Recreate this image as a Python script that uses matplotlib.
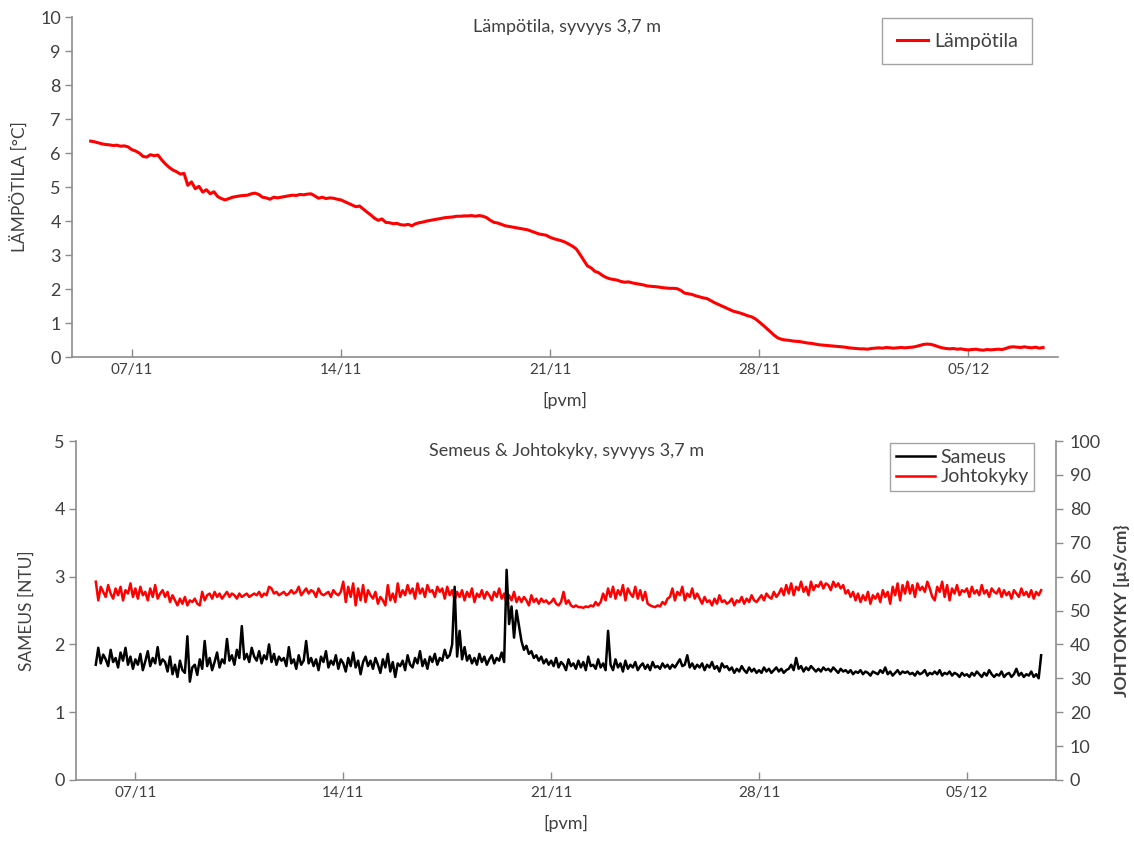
import matplotlib
matplotlib.use("Agg")
import matplotlib.pyplot as plt
import matplotlib.dates as mdates
import pandas as pd

plt.rcParams['font.family'] = ['Lato', 'DejaVu Sans']

# ---------------- data ----------------
title_top = "Lämpötila, syvyys 3,7 m"
title_bottom = "Semeus & Johtokyky, syvyys 3,7 m"
xlabel = "[pvm]"
ylabel_top = "LÄMPÖTILA [°C]"
ylabel_left = "SAMEUS [NTU]"
ylabel_right = "JOHTOKYKY [µS/cm}"
tick_dates = ["2013-11-07", "2013-11-14", "2013-11-21", "2013-11-28", "2013-12-05"]
x_range = ["2013-11-05", "2013-12-08"]

# temperature, every 3 h from 05/11 15:00
temp_start = "2013-11-05 15:00"
temperature = [
    6.35, 6.33, 6.30,
    6.27, 6.25, 6.24, 6.22, 6.23, 6.20, 6.21, 6.18,
    6.10, 6.06, 6.00, 5.90, 5.88, 5.95, 5.92, 5.94,
    5.80, 5.68, 5.58, 5.50, 5.45, 5.38, 5.40, 5.05,
    5.15, 4.95, 5.02, 4.85, 4.92, 4.80, 4.86, 4.72,
    4.66, 4.62, 4.66, 4.70, 4.72, 4.74, 4.75, 4.76,
    4.80, 4.82, 4.78, 4.70, 4.68, 4.64, 4.70, 4.68,
    4.70, 4.72, 4.74, 4.76, 4.75, 4.78, 4.77, 4.79,
    4.80, 4.74, 4.67, 4.70, 4.66, 4.68, 4.67, 4.64,
    4.62, 4.57, 4.52, 4.47, 4.42, 4.44, 4.35, 4.26,
    4.18, 4.08, 4.02, 4.06, 3.96, 3.95, 3.92, 3.93,
    3.89, 3.88, 3.90, 3.86, 3.92, 3.95, 3.97, 4.00,
    4.02, 4.04, 4.06, 4.08, 4.10, 4.11, 4.12, 4.14,
    4.14, 4.15, 4.15, 4.16, 4.14, 4.16, 4.14, 4.10,
    4.02, 3.96, 3.94, 3.90, 3.86, 3.84, 3.82, 3.80,
    3.78, 3.76, 3.74, 3.70, 3.66, 3.62, 3.60, 3.58,
    3.52, 3.48, 3.45, 3.42, 3.38, 3.32, 3.26, 3.18,
    3.02, 2.85, 2.68, 2.62, 2.52, 2.48, 2.40, 2.34,
    2.30, 2.28, 2.26, 2.22, 2.20, 2.21, 2.18, 2.16,
    2.14, 2.12, 2.09, 2.08, 2.07, 2.06, 2.04, 2.03,
    2.02, 2.02, 2.01, 1.96, 1.88, 1.86, 1.84, 1.80,
    1.77, 1.74, 1.72, 1.66, 1.60, 1.55, 1.50, 1.45,
    1.40, 1.35, 1.32, 1.29, 1.25, 1.21, 1.18, 1.12,
    1.03, 0.94, 0.84, 0.74, 0.64, 0.56, 0.52, 0.50,
    0.49, 0.47, 0.46, 0.45, 0.43, 0.41, 0.40, 0.38,
    0.36, 0.35, 0.34, 0.33, 0.32, 0.31, 0.30, 0.29,
    0.27, 0.26, 0.25, 0.24, 0.24, 0.23, 0.25, 0.26,
    0.27, 0.26, 0.28, 0.27, 0.26, 0.27, 0.28, 0.27,
    0.28, 0.29, 0.31, 0.34, 0.37, 0.38, 0.37, 0.34,
    0.30, 0.27, 0.25, 0.24, 0.25, 0.23, 0.24, 0.22,
    0.21, 0.22, 0.23, 0.21, 0.20, 0.22, 0.21, 0.22,
    0.23, 0.22, 0.25, 0.29, 0.30, 0.29, 0.28, 0.30,
    0.28, 0.27, 0.29, 0.26, 0.28,
]

# turbidity (NTU) and conductivity (uS/cm), every 2 h from 05/11 16:00
wq_start = "2013-11-05 16:00"
turbidity = [
    1.70, 1.95, 1.72, 1.85,
    1.78, 1.68, 1.92, 1.74, 1.80, 1.66, 1.88, 1.76, 1.95, 1.70, 1.82, 1.64,
    1.78, 1.70, 1.86, 1.62, 1.75, 1.90, 1.68, 1.80, 1.72, 1.96, 1.70, 1.78,
    1.74, 1.60, 1.82, 1.56, 1.70, 1.52, 1.76, 1.62, 1.58, 2.12, 1.45, 1.66,
    1.70, 1.55, 1.78, 1.64, 2.05, 1.68, 1.80, 1.62, 1.74, 1.88, 1.66, 1.78,
    1.72, 2.08, 1.76, 1.84, 1.70, 1.92, 1.80, 2.27, 1.78, 1.86, 1.74, 1.95,
    1.82, 1.76, 1.90, 1.72, 1.84, 1.78, 2.00, 1.74, 1.86, 1.70, 1.82, 1.76,
    1.80, 1.68, 1.96, 1.72, 1.78, 1.64, 1.84, 1.70, 1.76, 2.05, 1.72, 1.80,
    1.68, 1.78, 1.62, 1.82, 1.74, 1.90, 1.66, 1.76, 1.70, 1.84, 1.64, 1.78,
    1.72, 1.60, 1.80, 1.68, 1.88, 1.66, 1.76, 1.56, 1.74, 1.82, 1.68, 1.76,
    1.64, 1.80, 1.70, 1.58, 1.78, 1.66, 1.86, 1.60, 1.74, 1.52, 1.72, 1.68,
    1.76, 1.62, 1.84, 1.70, 1.66, 1.80, 1.72, 1.90, 1.68, 1.78, 1.64, 1.82,
    1.74, 1.86, 1.70, 1.80, 1.76, 1.92, 1.80, 1.84, 2.00, 2.85, 1.82, 2.20,
    1.78, 1.96, 1.76, 1.84, 1.72, 1.80, 1.70, 1.86, 1.74, 1.82, 1.70, 1.78,
    1.84, 1.72, 1.80, 1.76, 1.88, 1.74, 3.10, 2.30, 2.56, 2.10, 2.50, 2.27,
    2.05, 1.92, 1.98, 1.86, 1.90, 1.80, 1.84, 1.76, 1.82, 1.72, 1.78, 1.70,
    1.76, 1.68, 1.80, 1.66, 1.74, 1.70, 1.62, 1.78, 1.68, 1.72, 1.64, 1.76,
    1.66, 1.74, 1.62, 1.82, 1.68, 1.70, 1.64, 1.78, 1.66, 1.72, 1.62, 2.20,
    1.70, 1.62, 1.78, 1.66, 1.72, 1.60, 1.76, 1.64, 1.70, 1.66, 1.74, 1.62,
    1.68, 1.72, 1.64, 1.70, 1.62, 1.74, 1.66, 1.68, 1.64, 1.72, 1.66, 1.70,
    1.64, 1.70, 1.66, 1.72, 1.78, 1.68, 1.70, 1.84, 1.66, 1.72, 1.64, 1.70,
    1.66, 1.72, 1.62, 1.70, 1.66, 1.74, 1.64, 1.68, 1.60, 1.72, 1.66, 1.68,
    1.62, 1.66, 1.58, 1.64, 1.60, 1.68, 1.62, 1.58, 1.66, 1.60, 1.64, 1.58,
    1.62, 1.58, 1.66, 1.60, 1.64, 1.58, 1.62, 1.66, 1.60, 1.64, 1.58, 1.62,
    1.64, 1.70, 1.62, 1.80, 1.64, 1.68, 1.60, 1.66, 1.62, 1.68, 1.64, 1.60,
    1.64, 1.60, 1.66, 1.62, 1.64, 1.60, 1.66, 1.62, 1.58, 1.64, 1.60, 1.62,
    1.58, 1.62, 1.56, 1.60, 1.58, 1.62, 1.56, 1.60, 1.58, 1.54, 1.60, 1.58,
    1.56, 1.62, 1.58, 1.66, 1.56, 1.60, 1.54, 1.58, 1.62, 1.56, 1.60, 1.58,
    1.60, 1.56, 1.58, 1.54, 1.60, 1.56, 1.58, 1.62, 1.54, 1.58, 1.56, 1.60,
    1.56, 1.62, 1.54, 1.58, 1.56, 1.60, 1.54, 1.58, 1.56, 1.52, 1.58, 1.54,
    1.56, 1.52, 1.58, 1.54, 1.60, 1.56, 1.52, 1.58, 1.54, 1.62, 1.56, 1.52,
    1.56, 1.54, 1.60, 1.52, 1.56, 1.58, 1.52, 1.56, 1.64, 1.54, 1.58, 1.52,
    1.56, 1.54, 1.60, 1.52, 1.56, 1.50, 1.84,
]
conductivity = [
    58.5, 53.0, 57.0, 55.5,
    54.0, 57.5, 55.0, 53.5, 56.5, 54.5, 57.0, 53.0, 56.0, 55.0, 58.0, 54.0,
    56.5, 53.5, 57.0, 54.5, 55.5, 53.0, 56.5, 54.0, 57.5, 53.5, 55.0, 56.0,
    54.0, 55.5, 52.5, 54.5, 53.0, 51.5, 53.5, 52.0, 54.0, 51.5, 53.0, 52.5,
    53.5, 52.0, 51.5, 55.5, 53.0, 54.5, 55.0, 53.5, 55.5, 54.0, 55.0, 53.5,
    54.5, 55.5, 54.0, 55.0, 54.5, 53.5, 55.0, 54.0, 54.5, 55.0, 54.0, 54.5,
    55.0, 54.5, 55.5, 54.0, 55.0, 54.5, 57.0, 56.5, 55.0, 55.5, 54.5, 55.0,
    55.5, 54.5, 55.0, 56.0, 55.0, 55.5, 57.0, 54.5, 55.5, 56.5, 55.0, 56.0,
    55.5, 54.0, 56.5, 55.0, 54.5, 55.0, 55.5, 54.0, 56.0, 55.0, 54.5, 55.5,
    58.5, 52.5, 57.0, 54.0, 58.0, 51.5, 56.5, 53.0, 57.5, 52.5, 56.0, 54.5,
    53.5, 55.5, 52.0, 54.0, 53.0, 51.5, 57.5, 53.0, 55.0, 52.5, 58.0, 54.0,
    56.0, 54.5, 57.5, 55.0, 56.5, 53.5, 58.0, 55.0, 56.5, 54.0, 57.5, 55.5,
    56.0, 54.0, 57.0, 55.5, 56.5, 53.5, 57.0, 54.5, 56.0, 53.0, 55.5, 54.0,
    56.0, 53.0, 55.5, 54.0, 56.5, 52.5, 55.0, 54.0, 56.0, 53.5, 55.5, 54.5,
    53.0, 55.5, 54.0, 56.5, 53.5, 55.0, 52.0, 54.5, 53.0, 55.5, 52.5, 54.0,
    52.5, 54.0, 53.0, 51.5, 54.5, 52.5, 53.5, 52.0, 53.5, 52.5, 53.0, 52.0,
    52.5, 53.5, 52.0, 51.5, 52.5, 55.5, 52.0, 53.0, 51.5, 51.0, 51.5, 51.0,
    51.0, 50.8, 51.2, 51.0, 51.5, 51.2, 52.5, 51.5, 52.5, 55.0, 53.0, 56.5,
    54.0, 57.0, 53.5, 56.0, 54.5, 57.5, 53.0, 56.5, 55.0, 54.0, 57.0, 53.5,
    56.0, 53.0, 55.5, 52.0, 51.5, 51.2, 51.0, 51.5, 51.2, 52.5, 51.8, 53.5,
    54.0, 56.5, 53.0, 55.5, 54.5, 57.0, 53.0, 55.0, 54.0, 56.5, 53.5, 55.0,
    53.5, 52.0, 54.0, 52.5, 53.0, 51.5, 53.5, 52.0, 54.5, 52.5, 53.0, 52.0,
    52.5, 53.5, 51.5, 53.0, 52.5, 54.0, 52.0, 53.5, 52.5, 54.5, 53.0, 52.5,
    53.5, 54.5, 53.0, 55.0, 54.0, 53.5, 55.5, 54.0, 55.0, 56.5, 54.5, 57.5,
    55.0, 58.0, 54.5, 57.0, 56.0, 58.5, 55.5, 57.0, 54.5, 58.5, 56.0, 57.5,
    57.0, 58.5, 56.5, 58.0, 57.5, 56.0, 58.5, 57.0, 58.0, 56.5, 57.5, 55.0,
    56.0, 54.0, 55.5, 53.0, 55.0, 52.5, 54.5, 53.0, 55.5, 52.0, 54.5, 53.5,
    55.0, 52.5, 56.0, 54.0, 55.5, 52.0, 57.0, 54.5, 58.0, 53.0, 57.5, 55.0,
    58.5, 55.0, 57.5, 54.0, 58.0, 56.0, 57.0, 55.5, 58.5, 56.5, 54.0, 53.0,
    57.0, 55.5, 58.5, 54.0, 57.5, 53.0, 56.5, 55.0, 57.5, 54.5, 56.0, 55.5,
    56.5, 54.0, 57.0, 55.0, 56.0, 54.5, 57.5, 55.0, 56.0, 54.0, 56.5, 55.5,
    55.0, 56.5, 54.0, 56.0, 54.5, 55.5, 53.5, 56.0, 55.0, 54.0, 56.5, 54.5,
    55.5, 54.0, 56.0, 53.5, 55.5, 54.5, 56.0,
]

t_temp = pd.date_range(temp_start, periods=len(temperature), freq="3h")
t_wq = pd.date_range(wq_start, periods=len(turbidity), freq="2h")

# ---------------- styling ----------------
W, H = 1134, 841
TXT = "#404040"
SPINE = "#8c8c8c"
RED = "#ff0000"

fig = plt.figure(figsize=(W / 100, H / 100), dpi=100)


def frac(x0, y0, x1, y1):
    return [x0 / W, 1 - y1 / H, (x1 - x0) / W, (y1 - y0) / H]


xmin, xmax = pd.Timestamp(x_range[0]), pd.Timestamp(x_range[1])
ticks = [pd.Timestamp(d) for d in tick_dates]


def style_xaxis(ax):
    ax.set_xlim(xmin, xmax)
    ax.set_xticks(ticks)
    ax.xaxis.set_major_formatter(mdates.DateFormatter("%d/%m"))
    ax.tick_params(axis="x", direction="in", length=6, width=1, color=SPINE,
                   labelsize=11, labelcolor=TXT, pad=4)
    ax.set_xlabel(xlabel, fontsize=13, color=TXT, labelpad=11)
    for s in ["top", "right"]:
        ax.spines[s].set_visible(False)
    for s in ["left", "bottom"]:
        ax.spines[s].set_color(SPINE)
        ax.spines[s].set_linewidth(1.2)
    ax.tick_params(axis="y", direction="out", length=5, width=1, color=SPINE,
                   labelsize=13, labelcolor=TXT, pad=3)


# ---- top panel ----
ax1 = fig.add_axes(frac(72, 17, 1058, 357))
ax1.plot(t_temp, temperature, color=RED, lw=2.2, label="Lämpötila")
ax1.set_ylim(0, 10)
ax1.set_yticks(range(0, 11))
style_xaxis(ax1)
ax1.set_ylabel(ylabel_top, fontsize=12.5, color=TXT, labelpad=8)
ax1.text(0.502, 0.994, title_top, transform=ax1.transAxes, ha="center", va="top",
         fontsize=13, color=TXT)
leg1 = ax1.legend(loc="upper right", bbox_to_anchor=(0.974, 0.997), fontsize=14,
                  frameon=True, fancybox=False, handlelength=1.6,
                  borderpad=0.75, handletextpad=0.3, borderaxespad=0)
leg1.get_frame().set_edgecolor(SPINE)
leg1.get_frame().set_linewidth(1.0)
for t in leg1.get_texts():
    t.set_color(TXT)

# ---- bottom panel ----
ax2 = fig.add_axes(frac(76, 441, 1056, 780))
ax3 = ax2.twinx()
l_red, = ax3.plot(t_wq, conductivity, color=RED, lw=1.8, label="Johtokyky")
l_blk, = ax2.plot(t_wq, turbidity, color="black", lw=1.8, label="Sameus")
ax2.set_zorder(ax3.get_zorder() + 1)
ax2.patch.set_visible(False)
ax2.set_ylim(0, 5)
ax2.set_yticks(range(0, 6))
ax3.set_ylim(0, 100)
ax3.set_yticks(range(0, 101, 10))
style_xaxis(ax2)
ax2.set_ylabel(ylabel_left, fontsize=12.5, color=TXT, labelpad=14)
for s in ["top", "left", "bottom"]:
    ax3.spines[s].set_visible(False)
ax3.spines["right"].set_color(SPINE)
ax3.spines["right"].set_linewidth(1.2)
ax3.tick_params(axis="y", direction="out", length=5, width=1, color=SPINE,
                labelsize=13, labelcolor=TXT, pad=5)
ax3.set_ylabel(ylabel_right, fontsize=12.5, color=TXT, fontweight="bold", labelpad=9)
ax2.text(0.501, 0.995, title_bottom, transform=ax2.transAxes, ha="center", va="top",
         fontsize=13, color=TXT)
leg2 = ax2.legend([l_blk, l_red], ["Sameus", "Johtokyky"], loc="upper right",
                  bbox_to_anchor=(0.978, 0.995), fontsize=14, frameon=True,
                  fancybox=False, handlelength=2.0, borderpad=0.3,
                  handletextpad=0.3, borderaxespad=0, labelspacing=0.15)
leg2.get_frame().set_edgecolor(SPINE)
leg2.get_frame().set_linewidth(1.0)
for t in leg2.get_texts():
    t.set_color(TXT)

fig.savefig("out.png", dpi=100)
